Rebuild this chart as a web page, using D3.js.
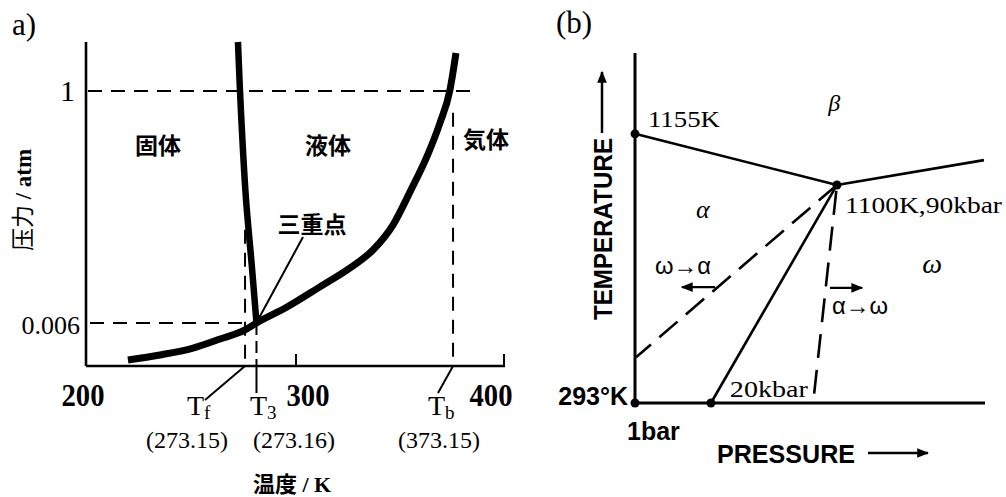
<!DOCTYPE html>
<html><head><meta charset="utf-8">
<script src="https://cdn.jsdelivr.net/npm/d3@7"></script>
<style>body{margin:0;background:#fff}</style>
</head><body><svg id="c" width="1006" height="497"></svg>
<script>
// ---------- Panel a: water phase diagram (schematic, log pressure) ----------
const aTempDomain = [200, 400];
const aPresDomain = [0.00232, 2.95];
const aTicks = [200, 300, 400];
const aTickLabels = ["200", "300", "400"];
const aPresTicks = [1, 0.006];
const aPresTickLabels = ["1", "0.006"];
const meltT = [272.1, 273.1, 274.5, 276.0, 278.8, 281.0];
const meltP = [2.95, 0.978, 0.272, 0.090, 0.0206, 0.006];
const vapT = [219.2, 234.6, 250.5, 263.5, 275.5, 281.0, 295.7, 311.5, 326.0, 337.0, 346.6, 355.0, 363.5, 369.2, 374.0, 376.4, 376.9];
const vapP = [0.00265, 0.00296, 0.00345, 0.00421, 0.00514, 0.006, 0.00853, 0.0133, 0.0202, 0.030, 0.0520, 0.110, 0.250, 0.494, 1.022, 1.98, 2.31];
const markT = [275.5, 281.0, 375.5];          // Tf, T3, Tb (as drawn)
const markSub = ["f", "3", "b"];
const markVal = ["(273.15)", "(273.16)", "(373.15)"];
const phaseNames = ["固体", "液体", "気体"];
const phaseT = [233.7, 315.4, 391.3];
const phaseP = [0.30, 0.30, 0.34];

// ---------- Panel b: schematic T-P diagram (arbitrary units 0..100) ----------
const bBoundaryAB = [[0, 76.9], [57.7, 62.3]];
const bBoundaryBW = [[57.7, 62.3], [99.7, 69.4]];
const bBoundaryAW = [[57.7, 62.3], [21.7, 0]];
const bHystWA = [[57.7, 62.3], [0.3, 13.1]];
const bHystAW = [[57.7, 62.3], [50.9, 0]];
const bDots = [[0, 76.9], [57.7, 62.3], [21.7, 0], [0, 0]];
const bArrowWA = [[22.9, 33.1], [13.4, 33.1]];
const bArrowAW = [[55.7, 32.9], [64.9, 32.9]];

const svg = d3.select("#c");
const serif = "'Liberation Serif','Times New Roman',serif";
const sans = "'Liberation Sans',Arial,sans-serif";
const cjk = "'Noto Sans CJK JP','Noto Sans CJK SC',sans-serif";

svg.append("defs").append("marker").attr("id", "ah")
  .attr("viewBox", "0 0 10 10").attr("refX", 9).attr("refY", 5)
  .attr("markerWidth", 12).attr("markerHeight", 12).attr("markerUnits", "userSpaceOnUse")
  .attr("orient", "auto")
  .append("path").attr("d", "M0,1 L10,5 L0,9 Z").attr("fill", "#000");

// ===== Panel a =====
const xA = d3.scaleLinear().domain(aTempDomain).range([88, 504]);
const yA = d3.scaleLog().domain(aPresDomain).range([366, 42]);
const gA = svg.append("g");

gA.append("text").attr("x", 12).attr("y", 35).attr("font-family", serif).attr("font-size", 31).text("a)");

// axes
gA.append("line").attr("x1", xA(200) - 2).attr("x2", xA(200) - 2).attr("y1", yA(aPresDomain[1])).attr("y2", yA(aPresDomain[0]))
  .attr("stroke", "#000").attr("stroke-width", 2.6);
gA.append("line").attr("x1", xA(200) - 2).attr("x2", xA(400) + 1).attr("y1", yA(aPresDomain[0])).attr("y2", yA(aPresDomain[0]))
  .attr("stroke", "#000").attr("stroke-width", 2.6);
gA.selectAll(".tk").data(aTicks.slice(1)).enter().append("line")
  .attr("x1", d => xA(d)).attr("x2", d => xA(d)).attr("y1", yA(aPresDomain[0])).attr("y2", yA(aPresDomain[0]) - 12)
  .attr("stroke", "#000").attr("stroke-width", 2);
const tickDx = [-5, 12, -13];
gA.selectAll(".tl").data(aTicks).enter().append("text")
  .attr("x", (d, i) => xA(d) + tickDx[i]).attr("y", 406).attr("text-anchor", "middle")
  .attr("font-family", serif).attr("font-size", 32).attr("font-weight", "bold")
  .attr("textLength", 43).attr("lengthAdjust", "spacingAndGlyphs")
  .text((d, i) => aTickLabels[i]);
gA.selectAll(".pl").data(aPresTicks).enter().append("text")
  .attr("x", (d, i) => i === 0 ? 75 : 80).attr("y", d => yA(d) + (d === 1 ? 10 : 11)).attr("text-anchor", "end")
  .attr("font-family", serif).attr("font-size", (d, i) => i === 0 ? 30 : 26)
  .text((d, i) => aPresTickLabels[i]);

// dashed guide lines
const dashA = "14,9";
gA.append("line").attr("x1", xA(200)).attr("x2", xA(385)).attr("y1", yA(1)).attr("y2", yA(1))
  .attr("stroke", "#000").attr("stroke-width", 2).attr("stroke-dasharray", dashA);
gA.append("line").attr("x1", xA(200) + 2).attr("x2", xA(markT[1])).attr("y1", yA(0.006)).attr("y2", yA(0.006))
  .attr("stroke", "#000").attr("stroke-width", 2).attr("stroke-dasharray", dashA);
gA.append("line").attr("x1", xA(markT[0])).attr("x2", xA(markT[0])).attr("y1", yA(0.047)).attr("y2", yA(aPresDomain[0]))
  .attr("stroke", "#000").attr("stroke-width", 2).attr("stroke-dasharray", dashA);
gA.append("line").attr("x1", xA(markT[1])).attr("x2", xA(markT[1])).attr("y1", yA(0.006)).attr("y2", yA(aPresDomain[0]))
  .attr("stroke", "#000").attr("stroke-width", 2).attr("stroke-dasharray", "12,6");
gA.append("line").attr("x1", xA(markT[2])).attr("x2", xA(markT[2])).attr("y1", yA(0.62)).attr("y2", yA(aPresDomain[0]))
  .attr("stroke", "#000").attr("stroke-width", 2).attr("stroke-dasharray", dashA);

// curves
const lineA = d3.line().x(d => xA(d[0])).y(d => yA(d[1])).curve(d3.curveMonotoneX);
gA.append("path").attr("d", d3.line().x(d => xA(d[0])).y(d => yA(d[1])).curve(d3.curveCatmullRom.alpha(0.5))(meltT.map((t, i) => [t, meltP[i]])))
  .attr("fill", "none").attr("stroke", "#000").attr("stroke-width", 6.5);
gA.append("path").attr("d", lineA(vapT.map((t, i) => [t, vapP[i]])))
  .attr("fill", "none").attr("stroke", "#000").attr("stroke-width", 7);

// phase labels
gA.selectAll(".ph").data(phaseNames).enter().append("text")
  .attr("x", (d, i) => xA(phaseT[i])).attr("y", (d, i) => yA(phaseP[i]) + 8).attr("text-anchor", "middle")
  .attr("font-family", cjk).attr("font-weight", "bold").attr("font-size", 23).text(d => d);

// triple point label
gA.append("text").attr("x", xA(307.7)).attr("y", yA(0.052) + 8).attr("text-anchor", "middle")
  .attr("font-family", cjk).attr("font-weight", "bold").attr("font-size", 23).text("三重点");
gA.append("line").attr("x1", 303).attr("y1", 237).attr("x2", xA(markT[1]) + 2).attr("y2", yA(0.006) - 4)
  .attr("stroke", "#000").attr("stroke-width", 2);

// marker leaders + labels
const leadEnd = [[205, 400], [xA(markT[1]), 393], [438, 393]];
gA.selectAll(".ld").data(markT).enter().append("line")
  .attr("x1", d => xA(d)).attr("y1", yA(aPresDomain[0])).attr("x2", (d, i) => leadEnd[i][0]).attr("y2", (d, i) => leadEnd[i][1])
  .attr("stroke", "#000").attr("stroke-width", 2);
const tX = [187, 250, 428];
const vX = [187, 294, 439];
markSub.forEach((s, i) => {
  const t = gA.append("text").attr("x", tX[i]).attr("y", 415).attr("font-family", serif).attr("font-size", 28);
  t.append("tspan").text("T");
  t.append("tspan").attr("dy", 4).attr("font-size", 19).text(s);
  gA.append("text").attr("x", vX[i]).attr("y", 448).attr("text-anchor", "middle")
    .attr("font-family", serif).attr("font-size", 24).text(markVal[i]);
});

// axis titles
const xt = gA.append("text").attr("x", 292).attr("y", 492).attr("text-anchor", "middle").attr("font-size", 22);
xt.append("tspan").attr("font-family", cjk).attr("font-weight", "bold").text("温度");
xt.append("tspan").attr("font-family", serif).attr("font-weight", "bold").text(" / K");
const yt = gA.append("text").attr("transform", "translate(31,200) rotate(-90)").attr("text-anchor", "middle").attr("font-size", 23);
yt.append("tspan").attr("font-family", cjk).text("压力");
yt.append("tspan").attr("font-family", serif).attr("font-weight", "bold").text(" / atm");

// ===== Panel b =====
const xB = d3.scaleLinear().domain([0, 100]).range([635, 985]);
const yB = d3.scaleLinear().domain([0, 100]).range([403, 53]);
const gB = svg.append("g");
const lineB = d3.line().x(d => xB(d[0])).y(d => yB(d[1]));

gB.append("text").attr("x", 556).attr("y", 33).attr("font-family", serif).attr("font-size", 31).text("(b)");

gB.append("path").attr("d", lineB([[0, 100], [0, 0], [100, 0]])).attr("fill", "none").attr("stroke", "#000").attr("stroke-width", 3);
[bBoundaryAB, bBoundaryBW, bBoundaryAW].forEach(p =>
  gB.append("path").attr("d", lineB(p)).attr("fill", "none").attr("stroke", "#000").attr("stroke-width", 2.6));
gB.append("path").attr("d", lineB(bHystWA)).attr("fill", "none").attr("stroke", "#000").attr("stroke-width", 2.6)
  .attr("stroke-dasharray", "24,11");
gB.append("path").attr("d", lineB(bHystAW)).attr("fill", "none").attr("stroke", "#000").attr("stroke-width", 2.6)
  .attr("stroke-dasharray", "24,12").attr("stroke-dashoffset", -6);
gB.selectAll(".dot").data(bDots).enter().append("circle")
  .attr("cx", d => xB(d[0])).attr("cy", d => yB(d[1])).attr("r", 4.5).attr("fill", "#000");
[bArrowWA, bArrowAW].forEach(p =>
  gB.append("path").attr("d", lineB(p)).attr("fill", "none").attr("stroke", "#000").attr("stroke-width", 2.2).attr("marker-end", "url(#ah)"));

// labels
const bLab = (x, y, txt, font, size, opts = {}) => {
  const t = gB.append("text").attr("x", xB(x)).attr("y", yB(y)).attr("font-family", font).attr("font-size", size).text(txt);
  Object.entries(opts).forEach(([k, v]) => t.attr(k, v));
  return t;
};
bLab(56.9, 83.3, "β", serif, 24, {"font-style": "italic", "text-anchor": "middle"});
bLab(19.4, 53.0, "α", serif, 26, {"font-style": "italic", "text-anchor": "middle"});
bLab(84.9, 37.2, "ω", serif, 28, {"font-style": "italic", "text-anchor": "middle"});
bLab(13.7, 37.0, "ω→α", sans, 24, {"text-anchor": "middle", "textLength": 56, "lengthAdjust": "spacingAndGlyphs"});
bLab(64.3, 25.3, "α→ω", sans, 24, {"text-anchor": "middle", "textLength": 56, "lengthAdjust": "spacingAndGlyphs"});
bLab(3.7, 78.9, "1155K", serif, 23, {"textLength": 72, "lengthAdjust": "spacingAndGlyphs"});
bLab(60.0, 54.3, "1100K,90kbar", serif, 23, {"textLength": 157, "lengthAdjust": "spacingAndGlyphs"});
bLab(27.1, 1.7, "20kbar", serif, 23, {"textLength": 78, "lengthAdjust": "spacingAndGlyphs"});
gB.append("text").attr("x", 628).attr("y", 405).attr("text-anchor", "end").attr("font-family", sans).attr("font-weight", "bold")
  .attr("font-size", 25).text("293°K");
gB.append("text").attr("x", 627).attr("y", 440).attr("font-family", sans).attr("font-weight", "bold")
  .attr("font-size", 25).text("1bar");
gB.append("text").attr("x", 717).attr("y", 463).attr("font-family", sans).attr("font-weight", "bold")
  .attr("font-size", 26).attr("textLength", 138).attr("lengthAdjust", "spacingAndGlyphs").text("PRESSURE");
gB.append("line").attr("x1", 868).attr("x2", 928).attr("y1", 453).attr("y2", 453).attr("stroke", "#000").attr("stroke-width", 2.5)
  .attr("marker-end", "url(#ah)");
gB.append("text").attr("transform", "translate(612,229) rotate(-90)").attr("text-anchor", "middle")
  .attr("font-family", sans).attr("font-weight", "bold").attr("font-size", 25)
  .attr("textLength", 182).attr("lengthAdjust", "spacingAndGlyphs").text("TEMPERATURE");
gB.append("line").attr("x1", 602).attr("x2", 602).attr("y1", 133).attr("y2", 72).attr("stroke", "#000").attr("stroke-width", 2.5)
  .attr("marker-end", "url(#ah)");
</script></body></html>
